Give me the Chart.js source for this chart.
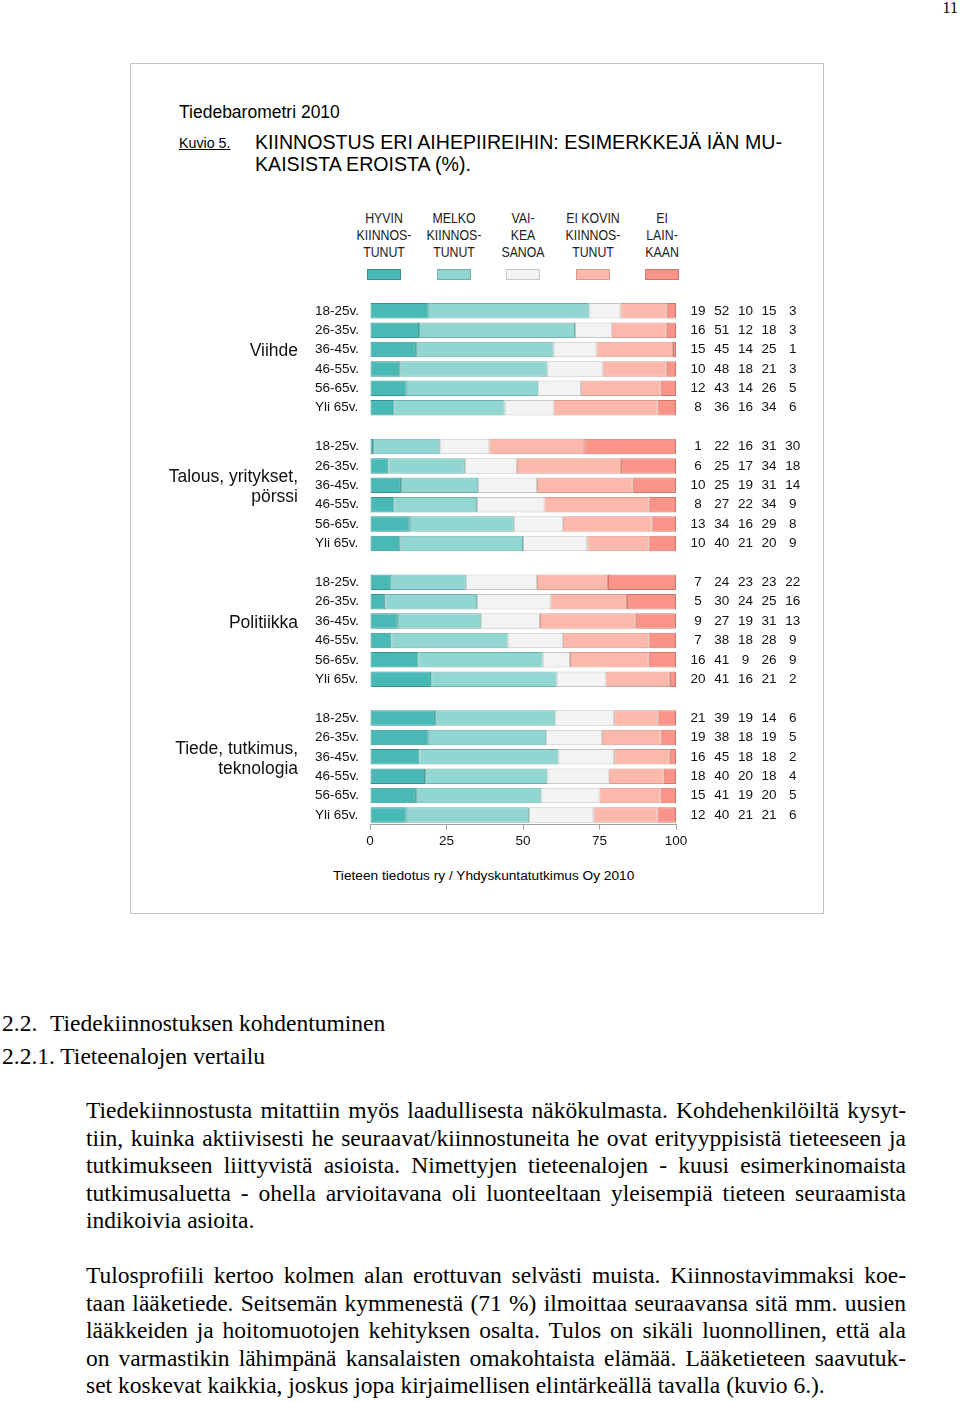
<!DOCTYPE html>
<html>
<head>
<meta charset="utf-8">
<script src="https://cdn.jsdelivr.net/npm/chart.js@4.4.1/dist/chart.umd.min.js"></script>
<style>
    body { margin: 0; background: #fff; }
    #page { position: relative; width: 960px; height: 1402px; overflow: hidden; font-family: "Liberation Sans", Arial, sans-serif; color: #000; }
    .abs { position: absolute; white-space: nowrap; }
    #box { position: absolute; left: 130px; top: 63px; width: 692px; height: 849px; border: 1px solid #c4c4c4; }
    .serif { font-family: "Liberation Serif", "Times New Roman", serif; }
    .legend-item { position: absolute; width: 80px; text-align: center; }
    .legend-text { font-size: 14px; line-height: 17px; color: #222; transform: scaleX(0.88); }
    .legend-box { width: 32px; height: 9px; margin: 8px auto 0; border: 1px solid; }
    .line { position: absolute; left: 86px; width: 820px; font-size: 23.5px; line-height: 27.5px; text-align: justify; text-align-last: justify; white-space: nowrap; }
    .line.last { text-align-last: left; }
    .head { font-size: 23.5px; line-height: 26px; }
    #chart { position: absolute; left: 140px; top: 290px; }
</style>
</head>
<body>
<div id="page">
    <div class="abs serif" style="right:2px; top:0px; font-size:16px; line-height:16px;">11</div>

    <div id="box"></div>
    <div class="abs" style="left:179px; top:102px; font-size:17.5px; line-height:20px;">Tiedebarometri 2010</div>
    <div class="abs" style="left:179px; top:134px; font-size:15px; line-height:18px; text-decoration:underline; transform:scaleX(0.95); transform-origin:left;">Kuvio 5.</div>
    <div class="abs" style="left:255px; top:131px; font-size:19.6px; line-height:22px;">KIINNOSTUS ERI AIHEPIIREIHIN: ESIMERKKEJÄ IÄN MU-<br>KAISISTA EROISTA (%).</div>

    <div id="legend"></div>

    <canvas id="chart" width="680" height="570"></canvas>

    <div class="abs" style="left:333px; top:868px; font-size:13.7px; line-height:16px;">Tieteen tiedotus ry / Yhdyskuntatutkimus Oy 2010</div>

    <div class="abs serif head" style="left:2px; top:1010px;">2.2.</div>
    <div class="abs serif head" style="left:50px; top:1010px;">Tiedekiinnostuksen kohdentuminen</div>
    <div class="abs serif head" style="left:2px; top:1043px;">2.2.1. Tieteenalojen vertailu</div>

    <div class="line serif" style="top:1097px;">Tiedekiinnostusta mitattiin myös laadullisesta näkökulmasta. Kohdehenkilöiltä kysyt-</div>
    <div class="line serif" style="top:1125px;">tiin, kuinka aktiivisesti he seuraavat/kiinnostuneita he ovat erityyppisistä tieteeseen ja</div>
    <div class="line serif" style="top:1152px;">tutkimukseen liittyvistä asioista. Nimettyjen tieteenalojen - kuusi esimerkinomaista</div>
    <div class="line serif" style="top:1180px;">tutkimusaluetta - ohella arvioitavana oli luonteeltaan yleisempiä tieteen seuraamista</div>
    <div class="line serif last" style="top:1207px;">indikoivia asioita.</div>

    <div class="line serif" style="top:1262px;">Tulosprofiili kertoo kolmen alan erottuvan selvästi muista. Kiinnostavimmaksi koe-</div>
    <div class="line serif" style="top:1290px;">taan lääketiede. Seitsemän kymmenestä (71 %) ilmoittaa seuraavansa sitä mm. uusien</div>
    <div class="line serif" style="top:1317px;">lääkkeiden ja hoitomuotojen kehityksen osalta. Tulos on sikäli luonnollinen, että ala</div>
    <div class="line serif" style="top:1345px;">on varmastikin lähimpänä kansalaisten omakohtaista elämää. Lääketieteen saavutuk-</div>
    <div class="line serif last" style="top:1372px;">set koskevat kaikkia, joskus jopa kirjaimellisen elintärkeällä tavalla (kuvio 6.).</div>
</div>

<script>
// aihepiirit ja ikäryhmät
const groups = ['Viihde', 'Talous, yritykset,\npörssi', 'Politiikka', 'Tiede, tutkimus,\nteknologia'];
const ages = ['18-25v.', '26-35v.', '36-45v.', '46-55v.', '56-65v.', 'Yli 65v.'];

// vastausvaihtoehdot (legenda)
const answers = ['HYVIN\nKIINNOS-\nTUNUT', 'MELKO\nKIINNOS-\nTUNUT', 'VAI-\nKEA\nSANOA', 'EI KOVIN\nKIINNOS-\nTUNUT', 'EI\nLAIN-\nKAAN'];
const colors = ['#48b9b4', '#92d6d2', '#f3f3f3', '#fcb9ab', '#fa9488'];
const borders = ['#35928e', '#6fb0ac', '#c6c6c6', '#d69a8e', '#d0776d'];

// prosentit: rivi = ikäryhmä, sarake = vastaus
const viihde = [
    [19, 52, 10, 15, 3],
    [16, 51, 12, 18, 3],
    [15, 45, 14, 25, 1],
    [10, 48, 18, 21, 3],
    [12, 43, 14, 26, 5],
    [8, 36, 16, 34, 6]
];
const talous = [
    [1, 22, 16, 31, 30],
    [6, 25, 17, 34, 18],
    [10, 25, 19, 31, 14],
    [8, 27, 22, 34, 9],
    [13, 34, 16, 29, 8],
    [10, 40, 21, 20, 9]
];
const politiikka = [
    [7, 24, 23, 23, 22],
    [5, 30, 24, 25, 16],
    [9, 27, 19, 31, 13],
    [7, 38, 18, 28, 9],
    [16, 41, 9, 26, 9],
    [20, 41, 16, 21, 2]
];
const tiede = [
    [21, 39, 19, 14, 6],
    [19, 38, 18, 19, 5],
    [16, 45, 18, 18, 2],
    [18, 40, 20, 18, 4],
    [15, 41, 19, 20, 5],
    [12, 40, 21, 21, 6]
];
const xTicks = [0, 25, 50, 75, 100];

const FONT = '"Liberation Sans", Arial, sans-serif';

// rakennetaan rivit: ryhmien väliin tyhjä rivi
const allGroups = [viihde, talous, politiikka, tiede];
const labels = [];
const rows = [];
const groupStart = [];
allGroups.forEach((g, gi) => {
    if (gi > 0) { labels.push(''); rows.push(null); }
    groupStart.push(labels.length);
    g.forEach((r, ri) => { labels.push(ages[ri]); rows.push(r); });
});

// palkit skaalataan 100 %:iin (pyöristys)
const datasets = answers.map((a, j) => ({
    label: a.replace(/\n/g, ' '),
    data: rows.map(r => {
        if (!r) return null;
        const sum = r.reduce((s, v) => s + v, 0);
        return r[j] * 100 / sum;
    }),
    backgroundColor: colors[j],
    borderColor: borders[j],
    borderWidth: 1,
    borderSkipped: false,
    barPercentage: 0.8,
    categoryPercentage: 1
}));

// legenda HTML:nä
const legend = document.getElementById('legend');
answers.forEach((a, j) => {
    const item = document.createElement('div');
    item.className = 'legend-item';
    item.style.left = (384 + j * 69.5 - 40) + 'px';
    item.style.top = '210px';
    item.innerHTML = `<div class="legend-text">${a.replace(/\n/g, '<br>')}</div>
        <div class="legend-box" style="background:${colors[j]};border-color:${borders[j]}"></div>`;
    legend.appendChild(item);
});

// luvut oikealle ja aihepiirit vasemmalle
const sidePlugin = {
    id: 'side',
    afterDraw(chart) {
        const { ctx, chartArea, scales } = chart;
        ctx.save();
        ctx.fillStyle = '#111';
        ctx.textBaseline = 'middle';
        ctx.font = '13.5px ' + FONT;
        ctx.textAlign = 'center';
        rows.forEach((r, i) => {
            if (!r) return;
            const y = scales.y.getPixelForValue(i);
            r.forEach((v, j) => ctx.fillText(String(v), chartArea.right + 22 + j * 23.7, y));
        });

        ctx.font = '17.5px ' + FONT;
        ctx.textAlign = 'right';
        groups.forEach((name, gi) => {
            const lines = name.split('\n');
            const yc = scales.y.getPixelForValue(groupStart[gi] + 2) + 2;
            lines.forEach((ln, k) => {
                ctx.fillText(ln, 158, yc + (k - (lines.length - 1) / 2) * 20);
            });
        });
        ctx.restore();
    }
};

new Chart(document.getElementById('chart'), {
    type: 'bar',
    data: { labels: labels, datasets: datasets },
    options: {
        indexAxis: 'y',
        responsive: false,
        animation: false,
        devicePixelRatio: 1,
        layout: { padding: { left: 175, right: 144, top: 10.3, bottom: 0 } },
        plugins: { legend: { display: false }, tooltip: { enabled: false } },
        scales: {
            x: {
                stacked: true,
                min: 0,
                max: 100,
                afterBuildTicks: s => { s.ticks = xTicks.map(v => ({ value: v })); },
                afterFit: s => { s.height = 35.3; },
                grid: { drawOnChartArea: false, drawTicks: true, tickLength: 5, color: '#a0a0a0' },
                border: { display: true, color: '#a0a0a0' },
                ticks: { color: '#111', font: { size: 13.5, family: FONT }, padding: 3 }
            },
            y: {
                stacked: true,
                afterFit: s => { s.width = 55; },
                grid: { display: false },
                border: { display: false },
                ticks: { color: '#111', font: { size: 13.5, family: FONT }, crossAlign: 'far', autoSkip: false }
            }
        }
    },
    plugins: [sidePlugin]
});
</script>
</body>
</html>
